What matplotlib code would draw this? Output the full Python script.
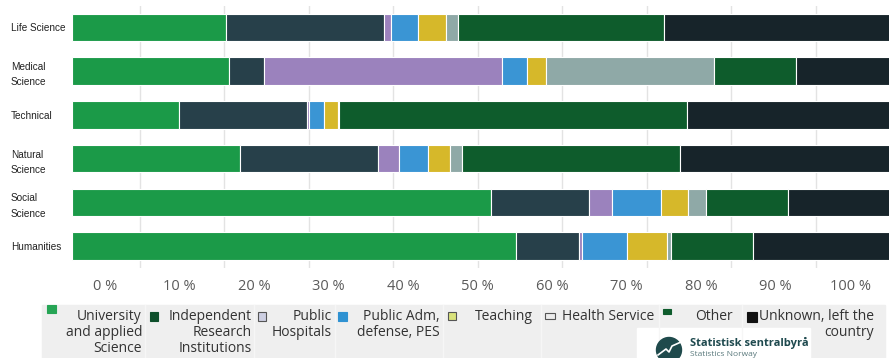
import numpy as np
import matplotlib
matplotlib.use("Agg")
from matplotlib import pyplot as plt
from matplotlib import font_manager
from matplotlib.patches import Rectangle, Ellipse

# fields (top to bottom)
fields = ["Life Science", "Medical\nScience", "Technical", "Natural\nScience",
          "Social\nScience", "Humanities"]

# share of PhDs by sector, in percent
university = [18.2, 18.6, 12.7, 19.9, 49.6, 52.5]
independent = [18.7, 4.1, 15.1, 16.3, 11.6, 7.5]
hospitals = [0.8, 28.2, 0.2, 2.5, 2.7, 0.4]
public_adm = [3.2, 3.0, 1.8, 3.4, 5.8, 5.3]
teaching = [3.4, 2.2, 1.7, 2.6, 3.2, 4.7]
health = [1.4, 19.9, 0.1, 1.4, 2.1, 0.5]
other = [24.4, 9.7, 41.2, 25.9, 9.7, 9.7]
unknown = [29.9, 14.3, 27.2, 28.0, 15.3, 19.4]

series = [university, independent, hospitals, public_adm, teaching, health, other, unknown]
legend_labels = ["University\nand applied\nScience", "Independent\nResearch\nInstitutions",
                 "Public\nHospitals", "Public Adm,\ndefense, PES", "Teaching",
                 "Health Service", "Other", "Unknown, left the\ncountry"]
bar_colors = ["#1b9a48", "#27404a", "#9b82bd", "#3a95d4", "#d6b82a", "#8fa9a7",
              "#0e5c2c", "#17242a"]
marker_colors = ["#26a555", "#0d4f2b", "#cdcfe2", "#2f92d2", "#d9e27c", "#ececec",
                 "#0e5c2c", "#111111"]
tick_labels = [f"{v} %" for v in range(0, 101, 10)]

W, H = 889, 358
FONT = ["Open Sans", "DejaVu Sans"]


def fx(x):
    return x / W


def fy(y):
    return 1 - y / H


def narrow_font():
    names = {f.name for f in font_manager.fontManager.ttflist}
    if "Liberation Sans Narrow" in names:
        return "Liberation Sans Narrow", 8
    return "Liberation Sans", 7.2


def main():
    plt.rcParams["font.family"] = FONT
    fig = plt.figure(figsize=(W / 100, H / 100), dpi=100)

    # main bars
    ax = fig.add_axes([fx(72), fy(268), 845 / W, 262.4 / H])
    y = np.arange(len(fields))
    left = np.zeros(len(fields))
    for vals, col in zip(series, bar_colors):
        ax.barh(y, vals, left=left, height=0.63, color=col,
                edgecolor="white", linewidth=0.8, zorder=2)
        left += np.array(vals)
    ax.set_xlim(0, 100)
    ax.set_ylim(5.5, -0.5)
    ax.set_xticks(np.arange(8, 100, 10))
    ax.set_xticklabels([])
    ax.grid(axis="x", color="#e3e3e3", linewidth=1, zorder=0)
    ax.tick_params(axis="x", length=0)
    for s in ax.spines.values():
        s.set_visible(False)
    cat_font, cat_size = narrow_font()
    ax.set_yticks(y)
    ax.set_yticklabels(fields, fontsize=cat_size, color="#222222", linespacing=1.65,
                       family=[cat_font, "DejaVu Sans"])
    for lab in ax.get_yticklabels():
        lab.set_ha("left")
    ax.tick_params(axis="y", length=0, pad=61 * 0.72)

    # percent scale row
    ax2 = fig.add_axes([fx(105), fy(287), (850 - 105) / W, 0.001])
    ax2.set_xlim(0, 100)
    ax2.set_xticks(np.arange(0, 101, 10))
    ax2.set_xticklabels(tick_labels, fontsize=10.5, color="#5a5a5a")
    for lab in ax2.get_xticklabels():
        lab.set_va("center")
    ax2.tick_params(axis="x", length=0, pad=0)
    ax2.set_yticks([])
    ax2.patch.set_visible(False)
    for s in ax2.spines.values():
        s.set_visible(False)

    # legend strip
    fig.patches.append(Rectangle((fx(42), fy(358)), fx(885 - 42), 53 / H,
                                 transform=fig.transFigure, color="#efefef", zorder=0))
    sep_x = [145, 254, 335, 443, 541, 659, 742]
    for sx in sep_x:
        fig.add_artist(plt.Line2D([fx(sx), fx(sx)], [fy(358), fy(305)],
                                  color="#f6f6f6", linewidth=1.0))
    # logo box
    fig.patches.append(Rectangle((fx(637), fy(358)), fx(810 - 637), 30 / H,
                                 transform=fig.transFigure, color="white", zorder=1))

    marker_boxes = [(47, 305, 9, 8), (150, 312, 8, 9), (258, 312, 8, 9), (338, 312, 9, 9),
                    (448, 312, 8, 8), (545, 313, 10, 6), (663, 309, 8, 5), (747, 312, 10, 10)]
    text_right = [142, 252, 332, 440, 533, 654, 733, 874]
    line_y = [317, 332, 348]
    for lab, mc, (mx, my, mw, mh), tr in zip(legend_labels, marker_colors, marker_boxes, text_right):
        ec = "#555555" if mc in ("#cdcfe2", "#d9e27c", "#ececec") else mc
        fig.patches.append(Rectangle((fx(mx), fy(my + mh)), mw / W, mh / H,
                                     transform=fig.transFigure, facecolor=mc,
                                     edgecolor=ec, linewidth=0.8, zorder=3))
        for i, line in enumerate(lab.split("\n")):
            fig.text(fx(tr), fy(line_y[i]), line, ha="right", va="center",
                     fontsize=10, color="#333333", zorder=4)

    # SSB logo
    fig.patches.append(Ellipse((fx(669), fy(350)), 25 / W, 25 / H, transform=fig.transFigure,
                               color="#1f4a4c", zorder=3))
    fig.add_artist(plt.Line2D([fx(658), fx(666), fx(669), fx(672), fx(681)],
                              [fy(355), fy(349), fy(352), fy(346), fy(342)],
                              color="white", linewidth=1.2, zorder=4))
    fig.text(fx(690), fy(343), "Statistisk sentralbyrå", ha="left", va="center",
             fontsize=8, fontweight="bold", color="#1f4a4f", zorder=4)
    fig.text(fx(690), fy(354), "Statistics Norway", ha="left", va="center",
             fontsize=6, color="#5b7a7d", zorder=4)

    fig.savefig("out.png", dpi=100)


if __name__ == "__main__":
    main()
